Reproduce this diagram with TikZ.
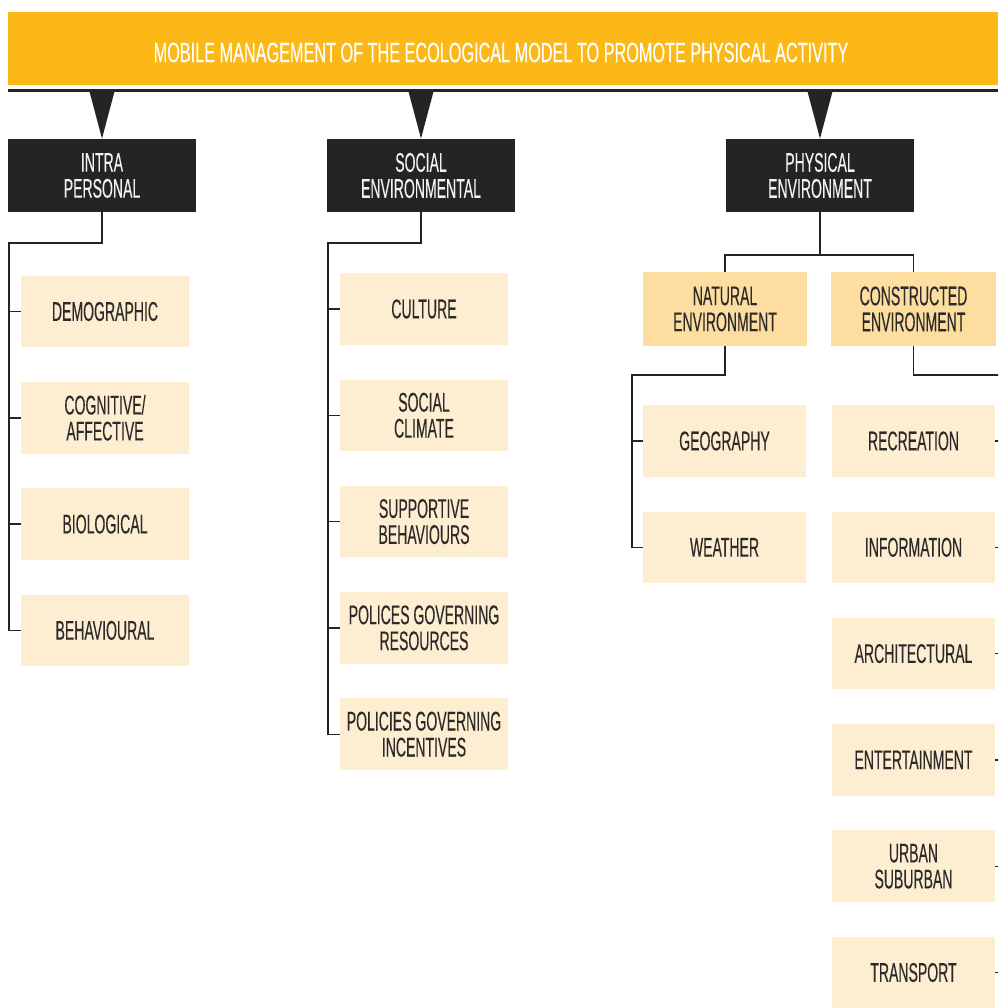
\documentclass[tikz,border=0pt]{standalone}
\usepackage{fontspec}
\setmainfont{Liberation Sans}[FakeStretch=0.52, FakeBold=0.25]
\newfontfamily\headfont{Liberation Sans}[FakeStretch=0.58, FakeBold=0.25]
\usepackage{tikz}
\usetikzlibrary{positioning}

\definecolor{banner}{HTML}{FBB817}
\definecolor{dark}{HTML}{262324}
\definecolor{mid}{HTML}{FDDDA0}
\definecolor{pale}{HTML}{FDEDD1}
\definecolor{ink}{HTML}{2B2A29}
\definecolor{light}{HTML}{F2F2F2}

\begin{document}
\begin{tikzpicture}[
    x=0.5pt, y=-0.5pt,
    every node/.style={
        rectangle,
        inner sep=0pt,
        align=center,
        font=\fontsize{13.5pt}{13pt}\selectfont
    },
    node distance=17pt,
    head/.style={fill=banner, minimum width=495pt, minimum height=36.5pt},
    headtext/.style={text=white, font=\headfont\fontsize{14pt}{14pt}\selectfont},
    cat/.style={fill=dark, text=light, minimum width=94pt, minimum height=36.5pt},
    sub/.style={fill=mid, text=ink, minimum width=82pt, minimum height=37pt},
    item/.style={fill=pale, text=ink, minimum width=84pt, minimum height=35.75pt},
    narrow/.style={minimum width=81.5pt},
    link/.style={draw=dark, line width=0.7pt},
    funnel/.style={fill=dark}
]
\useasboundingbox (0,0) rectangle (998,1008);
\clip (0,0) rectangle (998,1008);

% Title band
\node[head] (title) at (503,48.5) {};
\node[headtext] (titletext) at (501,52.5) {MOBILE MANAGEMENT OF THE ECOLOGICAL MODEL TO PROMOTE PHYSICAL ACTIVITY};
\draw[dark, line width=1.3pt] (8,90.5) -- (998,90.5);

% Main levels
\node[cat] (intra) at (102,175.5) {INTRA\\PERSONAL};
\node[cat] (social) at (421,175.5) {SOCIAL\\ENVIRONMENTAL};
\node[cat] (phys) at (820,175.5) {PHYSICAL\\ENVIRONMENT};

\foreach \c in {intra, social, phys}
    \fill[funnel] (\c.north) ++(-12.5,-47) -- ++(25,0) -- (\c.north) -- cycle;

% Intra personal
\node[item] (demo) at (105,311.5) {DEMOGRAPHIC};
\node[item, below=of demo] (cogn) {COGNITIVE/\\AFFECTIVE};
\node[item, below=of cogn] (bio) {BIOLOGICAL};
\node[item, below=of bio] (behav) {BEHAVIOURAL};

\coordinate (ispine) at (9,243);
\draw[link] (intra.south) |- (ispine) |- (behav.west);
\foreach \n in {demo, cogn, bio}
    \draw[link] (ispine |- \n.west) -- (\n.west);

% Social environmental
\node[item] (culture) at (424,309) {CULTURE};
\node[item, below=of culture] (climate) {SOCIAL\\CLIMATE};
\node[item, below=of climate] (support) {SUPPORTIVE\\BEHAVIOURS};
\node[item, below=of support] (resources) {POLICES GOVERNING\\RESOURCES};
\node[item, below=of resources] (incentives) {POLICIES GOVERNING\\INCENTIVES};

\coordinate (sspine) at (328,243);
\draw[link] (social.south) |- (sspine) |- (incentives.west);
\foreach \n in {culture, climate, support, resources}
    \draw[link] (sspine |- \n.west) -- (\n.west);

% Physical environment
\node[sub] (natural) at (725,309) {NATURAL\\ENVIRONMENT};
\node[sub, minimum width=82.5pt] (built) at (913.5,309) {CONSTRUCTED\\ENVIRONMENT};

\coordinate (pjoin) at (820,255);
\draw[link] (phys.south) -- (pjoin);
\draw[link] (natural.north) |- (pjoin) -| (built.north);

% Natural environment
\node[item, narrow] (geo) at (724.5,441) {GEOGRAPHY};
\node[item, narrow, below=of geo] (weather) {WEATHER};

\coordinate (nspine) at (632,375);
\draw[link] (natural.south) |- (nspine) |- (weather.west);
\draw[link] (nspine |- geo.west) -- (geo.west);

% Constructed environment
\node[item, narrow] (recre) at (913.5,441) {RECREATION};
\node[item, narrow, below=of recre] (info) {INFORMATION};
\node[item, narrow, below=of info] (archi) {ARCHITECTURAL};
\node[item, narrow, below=of archi] (enter) {ENTERTAINMENT};
\node[item, narrow, below=of enter] (urban) {URBAN\\SUBURBAN};
\node[item, narrow, below=of urban] (trans) {TRANSPORT};

\coordinate (cspine) at (1004,375);
\draw[link] (built.south) |- (cspine) |- (trans.east);
\foreach \n in {recre, info, archi, enter, urban}
    \draw[link] (cspine |- \n.east) -- (\n.east);

\end{tikzpicture}
\end{document}
